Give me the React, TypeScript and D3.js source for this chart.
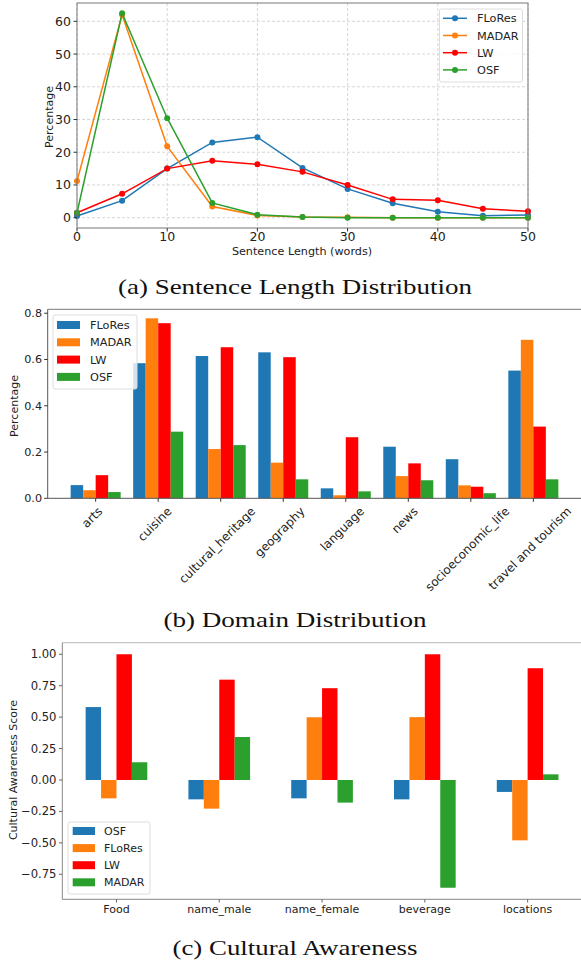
import React from 'react';
import { scaleLinear, line } from 'd3';

// (a) sentence length
const lengthBins = [0, 5, 10, 15, 20, 25, 30, 35, 40, 45, 50];
const floresLen = [0.5, 5.2, 15.0, 23.0, 24.6, 15.2, 8.8, 4.4, 1.8, 0.6, 0.8];
const madarLen = [11.2, 62.0, 21.8, 3.4, 0.7, 0.2, 0.1, 0.0, 0.0, 0.0, 0.0];
const lwLen = [1.5, 7.3, 15.0, 17.4, 16.3, 14.0, 10.0, 5.6, 5.3, 2.7, 2.0];
const osfLen = [1.5, 62.5, 30.4, 4.5, 0.9, 0.2, 0.0, 0.0, 0.0, 0.0, 0.0];
const lenTicksX = [0, 10, 20, 30, 40, 50];
const lenTicksY = [0, 10, 20, 30, 40, 50, 60];

// (b) domain distribution
const domains = ['arts', 'cuisine', 'cultural_heritage', 'geography', 'language', 'news', 'socioeconomic_life', 'travel and tourism'];
const floresDom = [0.057, 0.584, 0.615, 0.631, 0.043, 0.223, 0.169, 0.552];
const madarDom = [0.035, 0.778, 0.213, 0.154, 0.013, 0.096, 0.056, 0.685];
const lwDom = [0.100, 0.757, 0.653, 0.610, 0.264, 0.151, 0.050, 0.310];
const osfDom = [0.027, 0.288, 0.230, 0.082, 0.030, 0.078, 0.022, 0.082];
const domTicksY = [0, 0.2, 0.4, 0.6, 0.8];

// (c) cultural awareness
const aspects = ['Food', 'name_male', 'name_female', 'beverage', 'locations'];
const osfAware = [0.58, -0.154, -0.146, -0.154, -0.095];
const floresAware = [-0.146, -0.228, 0.499, 0.50, -0.48];
const lwAware = [1.0, 0.798, 0.73, 1.0, 0.889];
const madarAware = [0.141, 0.342, -0.18, -0.857, 0.045];
const awareTicksY = [-0.75, -0.5, -0.25, 0, 0.25, 0.5, 0.75, 1.0];

const BLUE = '#1f77b4';
const ORANGE = '#ff7f0e';
const RED = '#ff0000';
const GREEN = '#2ca02c';
const SANS = '"DejaVu Sans", sans-serif';
const SERIF = '"Liberation Serif", "DejaVu Serif", serif';

let ctx: CanvasRenderingContext2D | null = null;
function textWidth(s: string, size: number) {
  if (!ctx) ctx = document.createElement('canvas').getContext('2d');
  if (!ctx) return s.length * size * 0.55;
  ctx.font = `${size}px "DejaVu Sans"`;
  return ctx.measureText(s).width;
}

function Title({ text, y, width }: { text: string; y: number; width: number }) {
  return (
    <text x={295 - width / 2} y={y} fontSize={21.5} fontFamily={SERIF} fill="#111"
      textLength={width} lengthAdjust="spacingAndGlyphs">{text}</text>
  );
}

function LengthPanel() {
  const x = scaleLinear().domain([0, 50]).range([77, 528]);
  const y = scaleLinear().domain([-3.15, 65.6]).range([228, 3]);
  const series = [
    { name: 'FLoRes', color: BLUE, values: floresLen },
    { name: 'MADAR', color: ORANGE, values: madarLen },
    { name: 'LW', color: RED, values: lwLen },
    { name: 'OSF', color: GREEN, values: osfLen }
  ];
  const path = line<number>().x((_, i) => x(lengthBins[i])).y(d => y(d));
  return (
    <g>
      {/* grid */}
      {lenTicksX.map(t => (
        <line key={'gx' + t} x1={x(t)} x2={x(t)} y1={3} y2={228} stroke="#ccc" strokeWidth={0.8} strokeDasharray="3,2" />
      ))}
      {lenTicksY.map(t => (
        <line key={'gy' + t} x1={77} x2={528} y1={y(t)} y2={y(t)} stroke="#ccc" strokeWidth={0.8} strokeDasharray="3,2" />
      ))}
      {series.map(s => (
        <g key={s.name}>
          <path d={path(s.values) || ''} fill="none" stroke={s.color} strokeWidth={1.5} />
          {s.values.map((v, i) => (
            <circle key={i} cx={x(lengthBins[i])} cy={y(v)} r={3} fill={s.color} />
          ))}
        </g>
      ))}
      <rect x={77} y={3} width={451} height={225} fill="none" stroke="#777" strokeWidth={1} />
      {lenTicksX.map(t => (
        <g key={'tx' + t}>
          <line x1={x(t)} x2={x(t)} y1={228} y2={231.5} stroke="#333" />
          <text x={x(t)} y={241} textAnchor="middle" fontSize={12.5} fontFamily={SANS} fill="#222">{t}</text>
        </g>
      ))}
      {lenTicksY.map(t => (
        <g key={'ty' + t}>
          <line x1={73.5} x2={77} y1={y(t)} y2={y(t)} stroke="#333" />
          <text x={71} y={y(t) + 4.5} textAnchor="end" fontSize={12.5} fontFamily={SANS} fill="#222">{t}</text>
        </g>
      ))}
      <text x={302} y={255} textAnchor="middle" fontSize={11.2} fontFamily={SANS} fill="#222">Sentence Length (words)</text>
      <text transform="translate(52.5,117) rotate(-90)" textAnchor="middle" fontSize={11} fontFamily={SANS} fill="#222">Percentage</text>
      {/* legend */}
      <rect x={439.5} y={9} width={83} height={73} rx={2} fill="white" fillOpacity={0.8} stroke="#ddd" />
      {series.map((s, i) => (
        <g key={'lg' + s.name}>
          <line x1={443} x2={467} y1={18.3 + i * 17.2} y2={18.3 + i * 17.2} stroke={s.color} strokeWidth={1.5} />
          <circle cx={455} cy={18.3 + i * 17.2} r={3} fill={s.color} />
          <text x={477} y={18.3 + i * 17.2 + 4} fontSize={11.3} fontFamily={SANS} fill="#222">{s.name}</text>
        </g>
      ))}
      <Title text="(a) Sentence Length Distribution" y={294} width={354} />
    </g>
  );
}

function DomainPanel() {
  const x = scaleLinear().domain([-0.767, 7.767]).range([47.7, 581.3]);
  const y = scaleLinear().domain([0, 0.817]).range([498.3, 309.3]);
  const series = [
    { name: 'FLoRes', color: BLUE, values: floresDom },
    { name: 'MADAR', color: ORANGE, values: madarDom },
    { name: 'LW', color: RED, values: lwDom },
    { name: 'OSF', color: GREEN, values: osfDom }
  ];
  const bw = 0.2;
  const fs = 12;
  const asc = 0.8 * fs;
  const desc = 0.24 * fs;
  return (
    <g>
      {series.map((s, k) => s.values.map((v, i) => (
        <rect key={s.name + i} x={x(i + (k - 2) * bw)} y={y(v)} width={x(bw) - x(0)} height={y(0) - y(v)} fill={s.color} />
      )))}
      <line x1={47.7} x2={581} y1={309.3} y2={309.3} stroke="#777" />
      <line x1={47.7} x2={47.7} y1={309.3} y2={498.3} stroke="#555" />
      <line x1={47.7} x2={581} y1={498.3} y2={498.3} stroke="#555" />
      {domTicksY.map(t => (
        <g key={'ty' + t}>
          <line x1={44.2} x2={47.7} y1={y(t)} y2={y(t)} stroke="#333" />
          <text x={42} y={y(t) + 4} textAnchor="end" fontSize={11.2} fontFamily={SANS} fill="#222">{t.toFixed(1)}</text>
        </g>
      ))}
      {domains.map((d, i) => {
        const L = textWidth(d, fs);
        const ox = x(i) + 0.7071 * (L + asc - desc) / 2 - 3;
        const oy = 505.3 + 0.7071 * asc;
        return (
          <g key={d}>
            <line x1={x(i)} x2={x(i)} y1={498.3} y2={501.8} stroke="#333" />
            <text transform={`translate(${ox},${oy}) rotate(-45)`} textAnchor="end" fontSize={fs} fontFamily={SANS} fill="#222">{d}</text>
          </g>
        );
      })}
      <text transform="translate(18,406) rotate(-90)" textAnchor="middle" fontSize={11} fontFamily={SANS} fill="#222">Percentage</text>
      {/* legend */}
      <rect x={53} y={315} width={84} height={74} rx={2} fill="white" fillOpacity={0.8} stroke="#ddd" />
      {series.map((s, i) => (
        <g key={'lg' + s.name}>
          <rect x={57} y={321 + i * 17.3} width={23} height={8} fill={s.color} />
          <text x={90} y={325 + i * 17.3 + 4} fontSize={11.3} fontFamily={SANS} fill="#222">{s.name}</text>
        </g>
      ))}
      <Title text="(b) Domain Distribution" y={627} width={263} />
    </g>
  );
}

function AwarenessPanel() {
  const x = scaleLinear().domain([-0.527, 4.527]).range([62.3, 581.8]);
  const y = scaleLinear().domain([-0.949, 1.092]).range([899.3, 642.7]);
  const series = [
    { name: 'OSF', color: BLUE, values: osfAware },
    { name: 'FLoRes', color: ORANGE, values: floresAware },
    { name: 'LW', color: RED, values: lwAware },
    { name: 'MADAR', color: GREEN, values: madarAware }
  ];
  const bw = 0.15;
  const fmt = (t: number) => (t < 0 ? '\u2212' + Math.abs(t).toFixed(2) : t.toFixed(2));
  return (
    <g>
      {series.map((s, k) => s.values.map((v, i) => (
        <rect key={s.name + i} x={x(i + (k - 2) * bw)} y={y(Math.max(v, 0))} width={x(bw) - x(0)} height={Math.abs(y(v) - y(0))} fill={s.color} />
      )))}
      <line x1={62.3} x2={581} y1={642.7} y2={642.7} stroke="#bbb" />
      <line x1={62.3} x2={62.3} y1={642.7} y2={899.3} stroke="#888" />
      <line x1={62.3} x2={581} y1={899.3} y2={899.3} stroke="#888" />
      {awareTicksY.map(t => (
        <g key={'ty' + t}>
          <line x1={59} x2={62.3} y1={y(t)} y2={y(t)} stroke="#666" />
          <text x={56.5} y={y(t) + 4} textAnchor="end" fontSize={11.6} fontFamily={SANS} fill="#222">{fmt(t)}</text>
        </g>
      ))}
      {aspects.map((a, i) => (
        <g key={a}>
          <line x1={x(i)} x2={x(i)} y1={899.3} y2={902.5} stroke="#666" />
          <text x={x(i)} y={913} textAnchor="middle" fontSize={11} fontFamily={SANS} fill="#222">{a}</text>
        </g>
      ))}
      <text transform="translate(17,770) rotate(-90)" textAnchor="middle" fontSize={11} fontFamily={SANS} fill="#222">Cultural Awareness Score</text>
      {/* legend */}
      <rect x={68} y={822} width={82} height={72} rx={2} fill="white" fillOpacity={0.8} stroke="#ddd" />
      {series.map((s, i) => (
        <g key={'lg' + s.name}>
          <rect x={72.7} y={827 + i * 17.1} width={22.3} height={8} fill={s.color} />
          <text x={104} y={831 + i * 17.1 + 4} fontSize={11} fontFamily={SANS} fill="#222">{s.name}</text>
        </g>
      ))}
      <Title text="(c) Cultural Awareness" y={955} width={245} />
    </g>
  );
}

export default function App() {
  return (
    <svg width={581} height={961} style={{ position: 'absolute', left: 0, top: 0, background: 'white' }}>
      <rect x={0} y={0} width={581} height={961} fill="white" />
      <LengthPanel />
      <DomainPanel />
      <AwarenessPanel />
    </svg>
  );
}
